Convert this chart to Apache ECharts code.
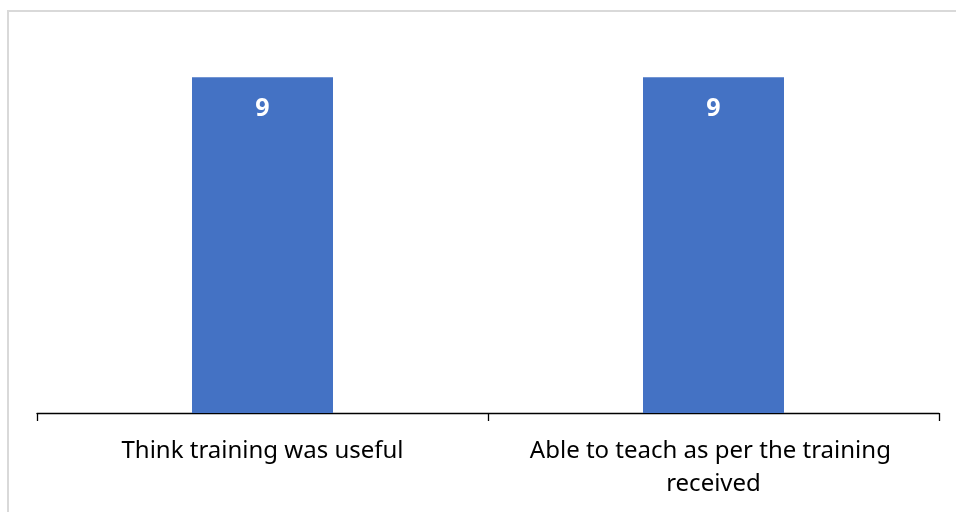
<!DOCTYPE html>
<html>
<head>
<meta charset="utf-8">
<script src="https://cdn.jsdelivr.net/npm/echarts@6/dist/echarts.min.js"></script>
<style>
  html, body { margin: 0; padding: 0; background: #ffffff; }
  #chart { width: 956px; height: 512px; }
</style>
</head>
<body>
<div id="chart"></div>
<script>
// Survey responses: number of participants per statement
const categories = ['Think training was useful', 'Able to teach as per the training received'];
const responses = [9, 9];
const axisMax = 10;

const chart = echarts.init(document.getElementById('chart'), null, { renderer: 'canvas' });

chart.setOption({
  backgroundColor: '#ffffff',
  animation: false,
  graphic: [{
    type: 'rect',
    shape: { x: 8, y: 11, width: 1000, height: 600 },
    style: { fill: 'none', stroke: '#d9d9d9', lineWidth: 2 },
    silent: true,
    z: -1
  }],
  grid: { left: 37, right: 17, top: 40, bottom: 99, containLabel: false },
  xAxis: {
    type: 'category',
    data: categories,
    axisLine: { show: true, lineStyle: { color: '#000000', width: 1.3 } },
    axisTick: { show: true, length: 8, alignWithLabel: false, lineStyle: { color: '#000000', width: 1.3 } },
    axisLabel: {
      color: '#000000',
      fontFamily: 'Noto Sans',
      fontSize: 24,
      lineHeight: 33,
      margin: 22,
      width: 400,
      overflow: 'break',
      interval: 0
    }
  },
  yAxis: {
    type: 'value',
    min: 0,
    max: axisMax,
    show: false,
    splitLine: { show: false }
  },
  series: [{
    type: 'bar',
    data: responses,
    barWidth: 141,
    itemStyle: { color: '#4472c4' },
    label: {
      show: true,
      position: 'insideTop',
      distance: 19,
      color: '#ffffff',
      fontFamily: 'Noto Sans',
      fontWeight: 'bold',
      fontSize: 25
    }
  }]
});
</script>
</body>
</html>
